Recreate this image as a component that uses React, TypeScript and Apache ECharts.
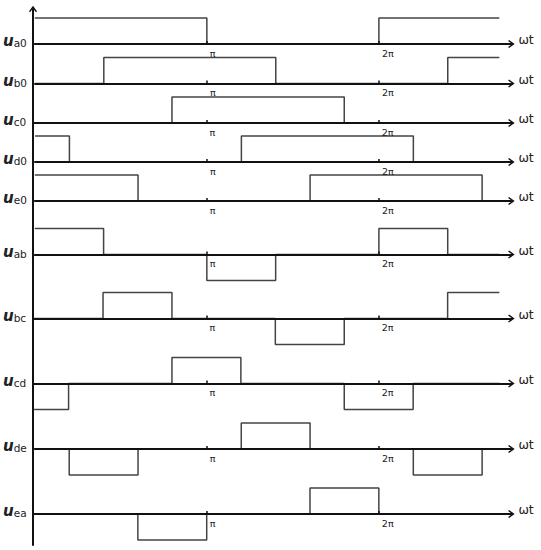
import React, { useEffect, useRef } from "react";
import * as echarts from "echarts";

// Row names (subscripts of u)
const rowNames = ["a0", "b0", "c0", "d0", "e0", "ab", "bc", "cd", "de", "ea"];
// Baseline pixel row of each trace (layout)
const rowBaselines = [44, 83.5, 123, 162, 201, 254.5, 318.5, 383.5, 449, 514];

// Square-wave transitions: [ωt in units of π, level after transition]
const ua0 = [[0, 1], [1, 0], [2, 1], [2.7, 1]];
const ub0 = [[0, 0], [0.4, 1], [1.4, 0], [2.4, 1], [2.7, 1]];
const uc0 = [[0, 0], [0.8, 1], [1.8, 0], [2.7, 0]];
const ud0 = [[0, 1], [0.2, 0], [1.2, 1], [2.2, 0], [2.7, 0]];
const ue0 = [[0, 1], [0.6, 0], [1.6, 1], [2.6, 0], [2.7, 0]];
const uab = [[0, 1], [0.4, 0], [1, -1], [1.4, 0], [2, 1], [2.4, 0], [2.7, 0]];
const ubc = [[0, 0], [0.4, 1], [0.8, 0], [1.4, -1], [1.8, 0], [2.4, 1], [2.7, 1]];
const ucd = [[0, -1], [0.2, 0], [0.8, 1], [1.2, 0], [1.8, -1], [2.2, 0], [2.7, 0]];
const ude = [[0, 0], [0.2, -1], [0.6, 0], [1.2, 1], [1.6, 0], [2.2, -1], [2.6, 0], [2.7, 0]];
const uea = [[0, 0], [0.6, -1], [1, 0], [1.6, 1], [2, 0], [2.7, 0]];
const rowData = [ua0, ub0, uc0, ud0, ue0, uab, ubc, ucd, ude, uea];

// Tick labels
const tickValues = [1, 2];
const tickLabels: Record<number, string> = { 1: "π", 2: "2π" };

const X_MAX = 2.77;
const PX_PER_PI = 172.7;
const LEFT = 33;
const UNIT = 26;
const CHEVRON = "path://M5,0 L10,7 L8.6,8.2 L5,3.2 L1.4,8.2 L0,7 Z";
const AXIS_COLOR = "#111";
const WAVE_COLOR = "#444";
const FONT = "DejaVu Sans";

export default function App() {
  const ref = useRef<HTMLDivElement>(null);
  useEffect(() => {
    if (!ref.current) return;
    const chart = echarts.init(ref.current, null, { renderer: "svg" });
    const gridW = X_MAX * PX_PER_PI;
    const grids: any[] = [];
    const xAxes: any[] = [];
    const yAxes: any[] = [];
    const series: any[] = [];
    rowNames.forEach((name, i) => {
      const lo = Math.min(0, ...rowData[i].map((p) => p[1]));
      const hi = 1;
      grids.push({ left: LEFT, top: rowBaselines[i] - UNIT * hi, width: gridW, height: UNIT * (hi - lo) });
      xAxes.push({
        gridIndex: i,
        type: "value",
        min: 0,
        max: X_MAX,
        z: 5,
        splitLine: { show: false },
        axisLine: {
          show: true,
          onZero: true,
          symbol: ["none", CHEVRON],
          symbolSize: [8, 8],
          lineStyle: { color: AXIS_COLOR, width: 2 },
        },
        axisTick: {
          show: true,
          inside: true,
          length: 3,
          customValues: tickValues,
          lineStyle: { color: AXIS_COLOR, width: 1.5 },
        },
        axisLabel: {
          show: true,
          customValues: tickValues,
          formatter: (v: number) => tickLabels[v] || "",
          fontSize: 9.5,
          fontFamily: FONT,
          color: "#222",
          align: "left",
          margin: 4 + lo * UNIT,
          padding: [0, 0, 0, 3],
        },
        name: "ωt",
        nameLocation: "end",
        nameGap: 7,
        nameTextStyle: {
          fontSize: 12.5,
          fontFamily: FONT,
          color: "#222",
          verticalAlign: "bottom",
          align: "left",
          lineHeight: 9,
        },
      });
      yAxes.push({
        gridIndex: i,
        type: "value",
        min: lo,
        max: hi,
        axisLine: { show: false },
        axisTick: { show: false },
        axisLabel: { show: false },
        splitLine: { show: false },
        name: `{u|u}{s|${name}}`,
        nameLocation: "end",
        nameRotate: 0,
        nameGap: -UNIT * hi,
        nameTextStyle: {
          align: "right",
          verticalAlign: "middle",
          padding: [0, 8, 7, 0],
          rich: {
            u: { fontSize: 15, fontStyle: "italic", fontWeight: "bold", fontFamily: FONT, color: "#222", verticalAlign: "bottom", lineHeight: 16 },
            s: { fontSize: 10.5, fontFamily: FONT, color: "#222", verticalAlign: "bottom", lineHeight: 16 },
          },
        },
      });
      series.push({
        type: "line",
        xAxisIndex: i,
        yAxisIndex: i,
        data: rowData[i],
        step: "end",
        symbol: "none",
        clip: false,
        z: 2,
        lineStyle: { color: WAVE_COLOR, width: 1.5 },
      });
    });
    // vertical axis
    const vi = rowNames.length;
    grids.push({ left: LEFT, top: 9, width: 10, bottom: 5 });
    xAxes.push({ gridIndex: vi, type: "value", show: false, min: 0, max: 1 });
    yAxes.push({
      gridIndex: vi,
      type: "value",
      min: 0,
      max: 1,
      position: "left",
      z: 6,
      axisLine: {
        show: true,
        onZero: false,
        symbol: ["none", CHEVRON],
        symbolSize: [8, 8],
        lineStyle: { color: AXIS_COLOR, width: 2 },
      },
      axisTick: { show: false },
      axisLabel: { show: false },
      splitLine: { show: false },
    });

    chart.setOption({
      animation: false,
      backgroundColor: "#fff",
      grid: grids,
      xAxis: xAxes,
      yAxis: yAxes,
      series,
    });
    return () => chart.dispose();
  }, []);
  return <div ref={ref} style={{ position: "fixed", left: 0, top: 0, width: 541, height: 550 }} />;
}
